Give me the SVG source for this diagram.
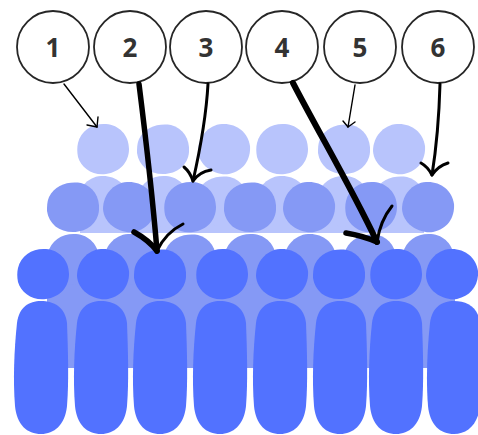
<svg xmlns="http://www.w3.org/2000/svg" width="478" height="435" viewBox="0 0 478 435">
  <style>
    .light { fill: #b8c4fc; }
    .mid { fill: #8599f5; }
    .dark { fill: #5272ff; }
    .label circle { fill: #ffffff; stroke: #262626; stroke-width: 1.8; }
    .label text { font-family: "Open Sans", "Noto Sans", "DejaVu Sans", sans-serif; font-weight: 700; font-size: 26px; fill: #333333; text-anchor: middle; }
    .conn path { fill: none; stroke: #000000; stroke-linecap: round; stroke-linejoin: round; }
    .thin { stroke-width: 1.4; }
    .med { stroke-width: 3; }
    .thick { stroke-width: 5.5; }
  </style>
  <defs>
    <!-- hand-drawn cell blobs, centred on 0,0, radius about 26 -->
    <path id="blobA" d="M-25,-6 C-22,-19 -10,-26 3,-25 C16,-24 26,-14 26,0 C26,13 17,23 3,25 C-10,27 -22,19 -25,8 C-26,3 -26,-2 -25,-6 Z"/>
    <path id="blobB" d="M-26,2 C-26,-12 -16,-24 -2,-25 C12,-26 24,-17 26,-3 C27,11 19,22 5,25 C-9,27 -25,17 -26,2 Z"/>
    <path id="blobC" d="M-24,-10 C-18,-22 -5,-26 8,-24 C20,-21 27,-10 26,3 C25,16 14,25 0,25 C-14,25 -24,17 -26,4 C-26,-1 -26,-5 -24,-10 Z"/>
    <!-- tall column cell, centred on x=0, top at y=0 -->
    <path id="column" d="M-24,22 C-22,6 -12,0 0,0 C13,0 24,6 26,22 C27,50 28,80 26,105 C24,124 13,133 0,133 C-14,133 -24,124 -26,105 C-28,80 -27,50 -24,22 Z"/>
  </defs>

  <!-- outer layer: lightest cells -->
  <g id="layer-light" class="light">
    <rect x="80" y="201" width="344" height="32"/>
    <use href="#blobB" x="103" y="201"/>
    <use href="#blobA" x="163" y="201"/>
    <use href="#blobC" x="222" y="201"/>
    <use href="#blobB" x="282" y="201"/>
    <use href="#blobA" x="343" y="201"/>
    <use href="#blobC" x="399" y="201"/>
    <use href="#blobA" x="103" y="149"/>
    <use href="#blobC" x="163" y="149"/>
    <use href="#blobB" x="224" y="149"/>
    <use href="#blobA" x="282" y="149"/>
    <use href="#blobC" x="344" y="149"/>
    <use href="#blobB" x="399" y="149"/>
  </g>

  <!-- middle layer -->
  <g id="layer-mid" class="mid">
    <rect x="47" y="259" width="408" height="109"/>
    <use href="#blobA" x="73" y="259"/>
    <use href="#blobB" x="130" y="259"/>
    <use href="#blobC" x="190" y="259"/>
    <use href="#blobA" x="250" y="259"/>
    <use href="#blobB" x="310" y="259"/>
    <use href="#blobC" x="370" y="259"/>
    <use href="#blobA" x="428" y="259"/>
    <use href="#blobC" x="73" y="207"/>
    <use href="#blobB" x="129" y="207"/>
    <use href="#blobA" x="190" y="207"/>
    <use href="#blobC" x="250" y="207"/>
    <use href="#blobB" x="309" y="207"/>
    <use href="#blobA" x="371" y="207"/>
    <use href="#blobB" x="428" y="207"/>
  </g>

  <!-- basal layer: dark cells and columns -->
  <g id="layer-dark" class="dark">
    <use href="#blobA" x="43" y="274"/>
    <use href="#blobB" x="103" y="274"/>
    <use href="#blobC" x="160" y="274"/>
    <use href="#blobA" x="222" y="274"/>
    <use href="#blobB" x="282" y="274"/>
    <use href="#blobC" x="339" y="274"/>
    <use href="#blobA" x="396" y="274"/>
    <use href="#blobB" x="452" y="274"/>
    <use href="#column" x="41" y="301"/>
    <use href="#column" x="101" y="301"/>
    <use href="#column" x="160" y="301"/>
    <use href="#column" x="220" y="301"/>
    <use href="#column" x="280" y="301"/>
    <use href="#column" x="340" y="301"/>
    <use href="#column" x="396" y="301"/>
    <use href="#column" x="454" y="301"/>
  </g>

  <!-- numbered callouts -->
  <g id="label-1" class="label"><circle cx="53" cy="47" r="36"/><text x="53" y="57">1</text></g>
  <g id="label-2" class="label"><circle cx="130" cy="47" r="36"/><text x="130" y="57">2</text></g>
  <g id="label-3" class="label"><circle cx="206" cy="47" r="36"/><text x="206" y="57">3</text></g>
  <g id="label-4" class="label"><circle cx="282" cy="47" r="36"/><text x="282" y="57">4</text></g>
  <g id="label-5" class="label"><circle cx="360" cy="47" r="36"/><text x="360" y="57">5</text></g>
  <g id="label-6" class="label"><circle cx="438" cy="47" r="36"/><text x="438" y="57">6</text></g>

  <!-- pointers from callouts to cells -->
  <g id="connectors" class="conn">
    <path class="thin" d="M64,84 L97,127"/>
    <path class="thin" d="M87,125 L97,127 L98,117"/>

    <path class="thick" d="M139,84 C146,140 152,190 157,251"/>
    <path class="thick" d="M134,232 C143,237 151,243 157,251"/>
    <path class="med" d="M183,224 C171,230 162,240 157,251"/>

    <path class="med" d="M208,84 C206,120 200,150 193,181"/>
    <path class="med" d="M184,167 Q190,172 193,181 Q199,172 211,170"/>

    <path class="thick" d="M293,83 C320,135 350,185 377,242" style="stroke-width:6"/>
    <path class="thick" d="M346,233 C358,235 368,238 377,242"/>
    <path class="med" d="M392,206 C384,216 379,228 377,242"/>

    <path class="thin" d="M355,85 L348,127"/>
    <path class="thin" d="M343,121 L348,127 L355,122"/>

    <path class="med" d="M440,84 C439,120 436,150 432,175"/>
    <path class="med" d="M421,163 Q428,167 432,175 Q438,166 448,163"/>
  </g>
</svg>
